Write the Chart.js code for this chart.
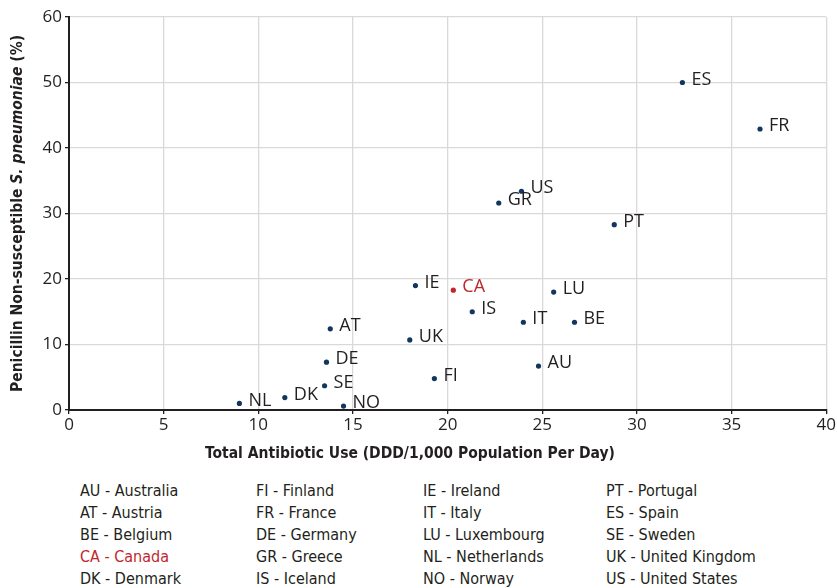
<!DOCTYPE html>
<html>
<head>
<meta charset="utf-8">
<script src="https://cdn.jsdelivr.net/npm/chart.js@4.4.1/dist/chart.umd.min.js"></script>
<style>
  html, body { margin: 0; padding: 0; background: #fff; }
  #wrap { position: relative; width: 837px; height: 588px; overflow: hidden; }
  #chartBox { position: absolute; left: 0; top: 0; width: 837px; height: 470px; }
  #legend { position: absolute; left: 0; top: 480px; width: 837px; height: 110px;
    font-family: 'Liberation Sans Narrow', 'DejaVu Sans Condensed', 'Open Sans', sans-serif;
    font-size: 16px; color: #231f20; }
  #legend .col { position: absolute; top: 0; }
  #legend .col div { height: 22px; line-height: 22px; white-space: nowrap; }
</style>
</head>
<body>
<div id="wrap">
  <div id="chartBox"><canvas id="scatterChart"></canvas></div>
  <div id="legend"></div>
</div>
<script>
const codes = ['AU', 'AT', 'BE', 'CA', 'DK', 'FI', 'FR', 'DE', 'GR', 'IS', 'IE', 'IT', 'LU', 'NL', 'NO', 'PT', 'ES', 'SE', 'UK', 'US'];
const countryNames = ['Australia', 'Austria', 'Belgium', 'Canada', 'Denmark', 'Finland', 'France', 'Germany', 'Greece', 'Iceland',
  'Ireland', 'Italy', 'Luxembourg', 'Netherlands', 'Norway', 'Portugal', 'Spain', 'Sweden', 'United Kingdom', 'United States'];
// total antibiotic use (DDD/1,000 population per day)
const antibioticUse = [24.8, 13.8, 26.7, 20.3, 11.4, 19.3, 36.5, 13.6, 22.7, 21.3, 18.3, 24.0, 25.6, 9.0, 14.5, 28.8, 32.4, 13.5, 18.0, 23.9];
// penicillin non-susceptible S. pneumoniae (%)
const nonSusceptible = [6.7, 12.4, 13.4, 18.3, 1.9, 4.8, 42.9, 7.3, 31.6, 15.0, 19.0, 13.4, 18.0, 1.0, 0.6, 28.3, 50.0, 3.7, 10.7, 33.4];
const highlight = 'CA';
const xTitleText = 'Total Antibiotic Use (DDD/1,000 Population Per Day)';

const colors = {
  navy: '#12365e',
  red: '#c0272d',
  text: '#231f20',
  grid: '#d9d9d9'
};
const labelFont = "'Open Sans', sans-serif";
const titleFont = "'Liberation Sans Narrow', 'DejaVu Sans Condensed', 'Open Sans', sans-serif";

const points = codes.map((code, i) => ({ x: antibioticUse[i], y: nonSusceptible[i], code }));
const pointColors = codes.map((c) => (c === highlight ? colors.red : colors.navy));

// code labels next to each point
const pointLabels = {
  id: 'pointLabels',
  afterDatasetsDraw(chart) {
    const ctx = chart.ctx;
    const meta = chart.getDatasetMeta(0);
    ctx.save();
    ctx.font = `18px ${labelFont}`;
    ctx.textBaseline = 'middle';
    ctx.textAlign = 'left';
    meta.data.forEach((el, i) => {
      ctx.fillStyle = codes[i] === highlight ? colors.red : colors.text;
      ctx.fillText(codes[i], el.x + 9, el.y - 3);
    });
    ctx.restore();
  }
};

// axis titles; y title has the italic species name
const axisTitles = {
  id: 'axisTitles',
  afterDraw(chart) {
    const ctx = chart.ctx;
    const area = chart.chartArea;
    const bold = `bold 15.5px ${titleFont}`;
    const parts = [
      { text: 'Penicillin Non-susceptible ', font: bold },
      { text: 'S. pneumoniae', font: `italic bold 15.5px ${titleFont}` },
      { text: ' (%)', font: bold }
    ];
    let total = 0;
    parts.forEach((p) => { ctx.font = p.font; p.w = ctx.measureText(p.text).width; total += p.w; });
    ctx.save();
    ctx.fillStyle = colors.text;
    ctx.textBaseline = 'middle';
    ctx.translate(18, (area.top + area.bottom) / 2);
    ctx.rotate(-Math.PI / 2);
    let x = -total / 2;
    parts.forEach((p) => {
      ctx.font = p.font;
      ctx.fillText(p.text, x, 0);
      x += p.w;
    });
    ctx.restore();

    ctx.save();
    ctx.fillStyle = colors.text;
    ctx.font = bold;
    ctx.textAlign = 'center';
    ctx.textBaseline = 'middle';
    ctx.fillText(xTitleText, 410, area.bottom + 44);
    ctx.restore();
  }
};

new Chart(document.getElementById('scatterChart'), {
  type: 'scatter',
  data: {
    datasets: [{
      data: points,
      pointBackgroundColor: pointColors,
      pointBorderWidth: 0,
      pointRadius: 2.6
    }]
  },
  options: {
    responsive: true,
    maintainAspectRatio: false,
    animation: false,
    layout: { padding: { top: 17, right: 9, left: 0, bottom: 0 } },
    plugins: {
      legend: { display: false },
      tooltip: { enabled: false }
    },
    scales: {
      x: {
        min: 0,
        max: 40,
        ticks: { stepSize: 5, color: colors.text, font: { family: labelFont, size: 17 }, padding: 1, maxRotation: 0 },
        grid: { color: colors.grid, tickColor: colors.text, tickLength: 4, lineWidth: 1.3 },
        border: { color: colors.text, width: 2 },
        afterFit(scale) { scale.height = 60; }
      },
      y: {
        min: 0,
        max: 60,
        ticks: { stepSize: 10, color: colors.text, font: { family: labelFont, size: 17 }, padding: 3 },
        grid: { color: colors.grid, tickColor: colors.text, tickLength: 4, lineWidth: 1.3 },
        border: { color: colors.text, width: 2 },
        afterFit(scale) { scale.width = 69; }
      }
    }
  },
  plugins: [pointLabels, axisTitles]
});

function renderLegend() {
  const legend = document.getElementById('legend');
  const colLefts = [80, 256, 423, 606];
  const perCol = 5;
  colLefts.forEach((left, c) => {
    const col = document.createElement('div');
    col.className = 'col';
    col.style.left = left + 'px';
    codes.slice(c * perCol, c * perCol + perCol).forEach((code, j) => {
      const row = document.createElement('div');
      row.textContent = `${code} - ${countryNames[c * perCol + j]}`;
      if (code === highlight) row.style.color = colors.red;
      col.appendChild(row);
    });
    legend.appendChild(col);
  });
}
renderLegend();
</script>
</body>
</html>
